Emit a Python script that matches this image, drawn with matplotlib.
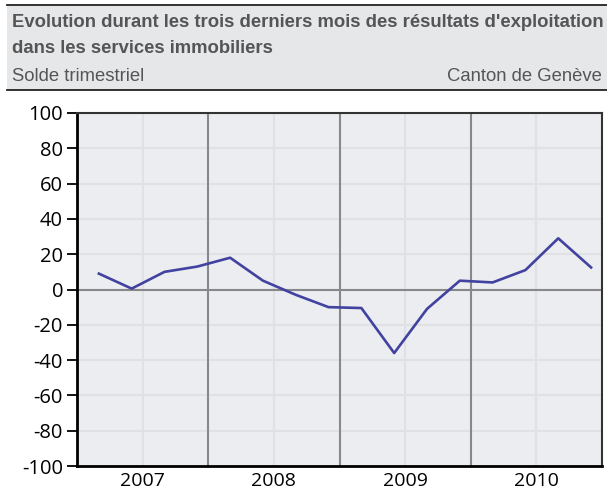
import matplotlib.pyplot as plt
from matplotlib.patches import Rectangle
from matplotlib.lines import Line2D

# quarterly balance, one point per quarter (placed on the middle month)
years = [2007, 2008, 2009, 2010]
quarter_month = [2, 5, 8, 11]
solde = [9, 0.5, 10, 13, 18, 5, -3, -10, -10.5, -36, -11, 5, 4, 11, 29, 12.5]

title_lines = ["Evolution durant les trois derniers mois des résultats d'exploitation",
               "dans les services immobiliers"]
subtitle_left = "Solde trimestriel"
subtitle_right = "Canton de Genève"

x = [y + m / 12 for y in years for m in quarter_month]

fig = plt.figure(figsize=(6.07, 4.94), dpi=100)

###########################################################
# Header box
###########################################################

W, H = 607, 494
fig.patches.append(Rectangle((7 / W, 1 - 90 / H), 600 / W, 85 / H,
                             transform=fig.transFigure, facecolor="#e6e7e9",
                             edgecolor="none", zorder=0))
for yy in (5, 90):
    fig.lines.append(Line2D([7 / W, 1], [1 - yy / H, 1 - yy / H],
                            transform=fig.transFigure, color="#222222", lw=1.3))

for line, base in zip(title_lines, (27, 53)):
    fig.text(12 / W, 1 - base / H, line, ha="left", va="baseline",
             fontsize=13.3, fontweight="bold", color="#555555",
             family="Liberation Sans")
fig.text(12 / W, 1 - 81 / H, subtitle_left, ha="left", va="baseline",
         fontsize=13.3, color="#555555", family="Liberation Sans")
fig.text(602 / W, 1 - 81 / H, subtitle_right, ha="right", va="baseline",
         fontsize=13.3, color="#555555", family="Liberation Sans")

###########################################################
# Chart
###########################################################

ax = fig.add_axes([77 / W, 1 - 466 / H, 525 / W, 353 / H])
ax.set_facecolor("#ecedf0")

ax.set_xlim(years[0], years[-1] + 1)
ax.set_ylim(-100, 100)

# light grid: mid-year and every 20
for yr in years:
    ax.axvline(yr + 0.5, color="#e0e1e4", lw=1.5, zorder=1)
for v in range(-80, 100, 20):
    ax.axhline(v, color="#e0e1e4", lw=1.5, zorder=1)

# year separators and zero line
for yr in years[1:]:
    ax.axvline(yr, color="#888888", lw=1.5, zorder=2)
ax.axhline(0, color="#888888", lw=1.5, zorder=2)

ax.plot(x, solde, color="#4242a0", lw=1.9, zorder=3)

ax.set_yticks(range(-100, 101, 20))
ax.set_yticklabels([str(v) for v in range(-100, 101, 20)])
ax.set_xticks([yr + 0.5 for yr in years])
ax.set_xticklabels([str(yr) for yr in years])

ax.tick_params(axis="y", length=7, width=1.3, color="black", pad=3,
               labelsize=14.5)
ax.tick_params(axis="x", length=0, pad=4.5, labelsize=14)
for lab in ax.get_xticklabels() + ax.get_yticklabels():
    lab.set_family("Open Sans")
    lab.set_color("black")

ax.spines["left"].set_linewidth(2)
ax.spines["bottom"].set_linewidth(2)
ax.spines["left"].set_color("black")
ax.spines["bottom"].set_color("black")
ax.spines["top"].set_linewidth(1.5)
ax.spines["right"].set_linewidth(1.5)
ax.spines["top"].set_color("#333333")
ax.spines["right"].set_color("#333333")

fig.savefig("out.png", dpi=100)
